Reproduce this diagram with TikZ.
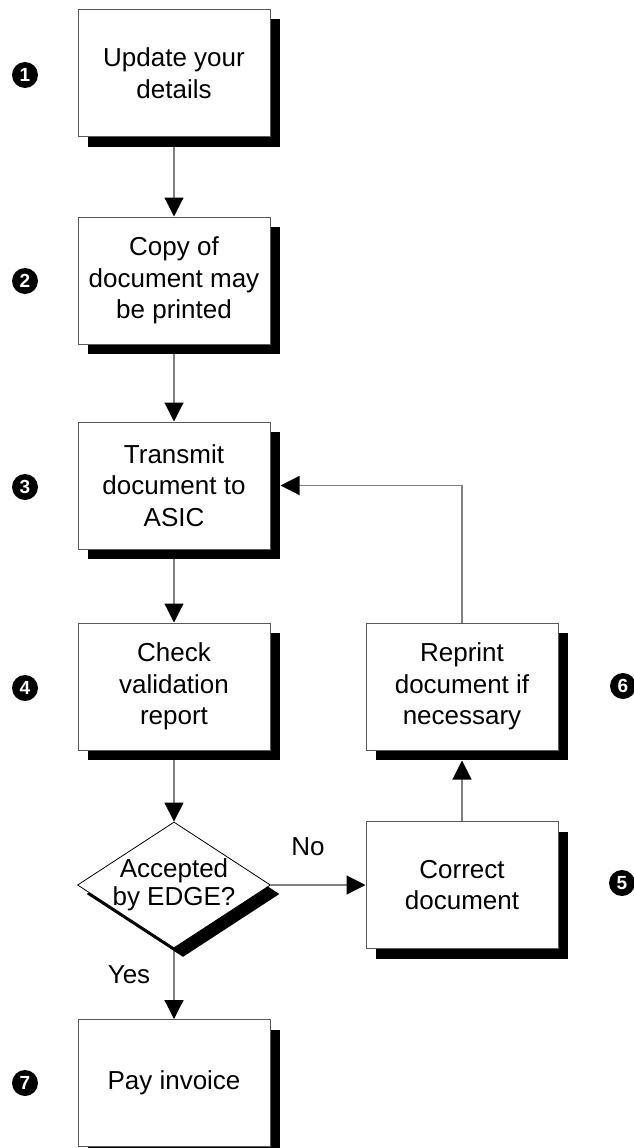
\documentclass[tikz,border=0pt]{standalone}
\usepackage{fontspec}
\setmainfont{Liberation Sans}
\usetikzlibrary{arrows.meta,shadows,shapes.geometric,calc,backgrounds}
\begin{document}
\begin{tikzpicture}[x=1pt,y=-1pt,
  txt/.style={font=\fontsize{26}{31.5}\selectfont},
  box/.style={txt, draw=black!65, line width=1pt, fill=white,
    minimum width=192pt, minimum height=127pt, inner sep=0pt, align=center,
    general shadow={fill=black, shadow xshift=10pt, shadow yshift=-10pt}},
  decision/.style={font=\fontsize{26}{28}\selectfont, diamond, draw=black, line width=0.8pt, fill=white,
    minimum width=193pt, minimum height=126pt, inner sep=0pt,
    general shadow={fill=black, shadow xshift=9pt, shadow yshift=-9pt}},
  num/.style={circle, fill=black, text=white, minimum size=26pt, inner sep=0pt,
    font=\fontsize{19}{19}\selectfont\bfseries},
  lbl/.style={txt, inner sep=0pt},
  arr/.style={draw=black!50, line width=1.2pt,
    -{Triangle[length=19pt,width=19pt,color=black]}}
]
\useasboundingbox (0,0) rectangle (634,1148);

\node[box] (b1) at (174,73) {Update your\\details};
\node[box] (b2) at (174,280.5) {Copy of\\document may\\be printed};
\node[box] (b3) at (174,485.5) {Transmit\\document to\\ASIC};
\node[box] (b4) at (174,686.5) {Check\\validation\\report};
\node[decision] (d) at (174,885) {\raisebox{-7pt}[0pt][0pt]{\makebox[0pt]{\begin{tabular}{@{}c@{}}Accepted\\by EDGE?\end{tabular}}}};
\node[box] (b5) at (462,885) {Correct\\document};
\node[box] (b6) at (462,686.5) {Reprint\\document if\\necessary};
\node[box] (b7) at (174,1083) {Pay invoice};

\node[num] (n1) at (25,75) {1};
\node[num] (n2) at (25,281) {2};
\node[num] (n3) at (25,487) {3};
\node[num] (n4) at (25,688) {4};
\node[num] (n7) at (25,1083) {7};
\node[num] (n6) at (623,686) {6};
\node[num] (n5) at (622,883) {5};

\node[lbl] (no) at (308,847) {No};
\node[lbl] (yes) at (129,975) {Yes};

\begin{scope}[on background layer]
\fill[white] (0,0) rectangle (634,1148);
\draw[arr] (b1.south) -- (b2.north);
\draw[arr] (b2.south) -- (b3.north);
\draw[arr] (b3.south) -- (b4.north);
\draw[arr] (b4.south) -- (d.north);
\draw[arr] (d.east) -- (b5.west);
\draw[arr] (d.south) -- (b7.north);
\draw[arr] (b5.north) -- ($(b6.south)+(0,10)$);
\draw[arr] (b6.north) |- ($(b3.east)+(10,0)$);
\end{scope}
\end{tikzpicture}
\end{document}
